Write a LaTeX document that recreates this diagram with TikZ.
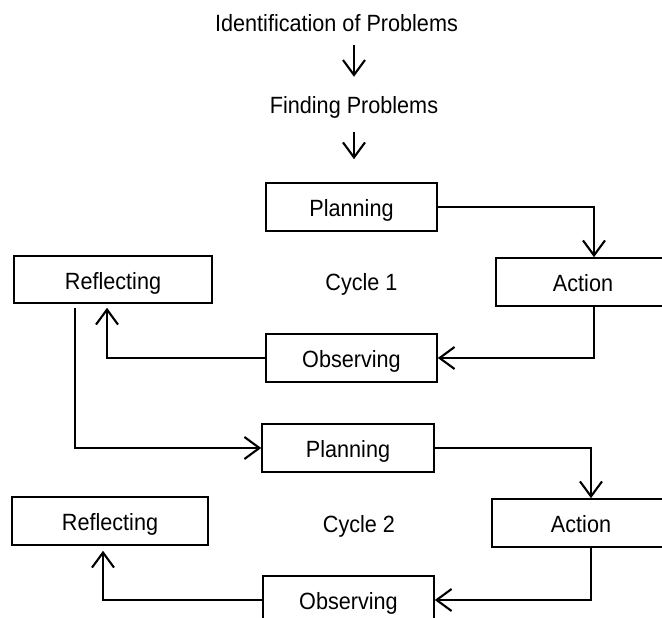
\documentclass[tikz,border=0pt]{standalone}
\usepackage{fontspec}
\setmainfont{Liberation Sans}[FakeStretch=0.92]
\usetikzlibrary{arrows.meta, calc}

\begin{document}
\begin{tikzpicture}[x=1pt, y=1pt,
	font=\fontsize{23.5pt}{28pt}\selectfont,
	box/.style={draw, line width=1.6pt, inner sep=0pt, minimum width=171pt, minimum height=48pt, text height=20pt, text depth=0pt},
	link/.style={line width=2.1pt, -{Straight Barb[length=15pt, width=22pt, line width=2.1pt]}},
	plain/.style={inner sep=0pt, anchor=base}]
	\clip (0,0) rectangle (662,618);
	\node (title) at (336.5,586) [plain] {Identification of Problems};
	\node (find) at (354,504) [plain] {Finding Problems};
	\node (P1) at (351.5,411) [box] {Planning};
	\node (A1) at (583,336) [box, minimum width=174pt] {Action};
	\node (R1) at (113,338.5) [box, minimum width=198pt, minimum height=47pt] {Reflecting};
	\node (O1) at (351.5,260) [box] {Observing};
	\node (C1) at (361.5,327) [plain] {Cycle 1};
	\node (P2) at (348,170) [box, minimum width=172pt] {Planning};
	\node (A2) at (581,95) [box, minimum width=178pt] {Action};
	\node (R2) at (110,97) [box, minimum width=196pt] {Reflecting};
	\node (O2) at (348.5,18) [box] {Observing};
	\node (C2) at (359,85) [plain] {Cycle 2};
	\draw[link, shorten <=13pt, shorten >=20pt] (find.north |- title.south) -- (find.north);
	\draw[link, shorten <=13pt, shorten >=23pt] (find.south) -- (find.south |- P1.north);
	\draw[link] (P1.east) -| ([xshift=11pt]A1.north);
	\draw[link] ([xshift=11pt]A1.south) |- (O1.east);
	\draw[link, shorten >=4pt] (O1.west) -| ([xshift=-6pt]R1.south);
	\draw[link] ([xshift=-38pt, yshift=-4pt]R1.south) |- (P2.west);
	\draw[link] (P2.east) -| ([xshift=10pt]A2.north);
	\draw[link] ([xshift=10pt]A2.south) |- (O2.east);
	\draw[link, shorten >=5pt] (O2.west) -| ([xshift=-7pt]R2.south);
\end{tikzpicture}
\end{document}
